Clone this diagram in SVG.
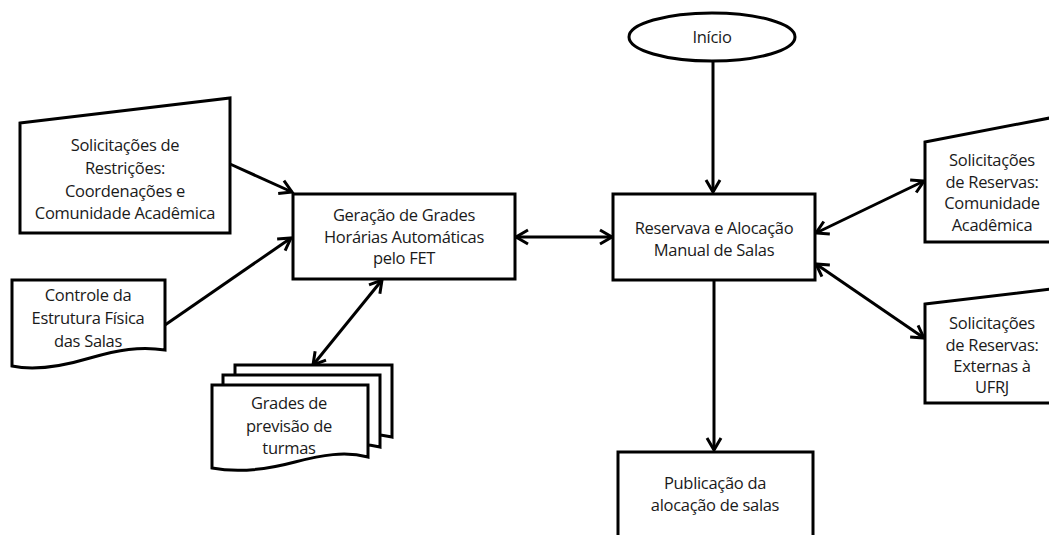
<svg xmlns="http://www.w3.org/2000/svg" width="1049" height="535" viewBox="0 0 1049 535">
<style>
.s{fill:#fff;stroke:#000;stroke-width:3;stroke-linejoin:miter}
.t{font-family:"Open Sans","Liberation Sans",Arial,sans-serif;font-size:16.5px;letter-spacing:-0.3px;fill:#1a1a1a;text-anchor:middle}
.c{stroke:#000;stroke-width:3;fill:none}
</style>
<defs>
<marker id="a" markerUnits="userSpaceOnUse" markerWidth="16" markerHeight="18" refX="13" refY="8" orient="auto-start-reverse" viewBox="0 0 16 16">
<path d="M1,1 L13,8 L1,15" fill="none" stroke="#000" stroke-width="3"/>
</marker>
</defs>
<rect width="1049" height="535" fill="#fff"/>
<g id="connectors">
<line class="c" x1="230" y1="164" x2="292" y2="192" marker-end="url(#a)"/>
<line class="c" x1="165" y1="325" x2="291" y2="238" marker-end="url(#a)"/>
<line class="c" x1="382" y1="280" x2="313" y2="365" marker-start="url(#a)" marker-end="url(#a)"/>
<line class="c" x1="516" y1="237" x2="612" y2="237" marker-start="url(#a)" marker-end="url(#a)"/>
<line class="c" x1="816" y1="233" x2="924" y2="181" marker-start="url(#a)" marker-end="url(#a)"/>
<line class="c" x1="816" y1="264" x2="924" y2="338" marker-start="url(#a)" marker-end="url(#a)"/>
<line class="c" x1="713" y1="61" x2="713" y2="192" marker-end="url(#a)"/>
<line class="c" x1="714" y1="281" x2="714" y2="450" marker-end="url(#a)"/>
</g>
<g id="inicio">
<ellipse class="s" cx="712" cy="37" rx="83" ry="24"/>
<text class="t" x="712" y="43">Início</text>
</g>
<g id="sol-restricoes">
<polygon class="s" points="20,123 230,98 230,233 20,233"/>
<text class="t" x="125" y="151">Solicitações de</text>
<text class="t" x="125" y="174">Restrições:</text>
<text class="t" x="125" y="197">Coordenações e</text>
<text class="t" x="125" y="219">Comunidade Acadêmica</text>
</g>
<g id="controle">
<path class="s" d="M12,280 H165 V350 C140,346 118,350 90,358 C60,367 35,371 12,366 Z"/>
<text class="t" x="88" y="301">Controle da</text>
<text class="t" x="88" y="324">Estrutura Física</text>
<text class="t" x="88" y="347">das Salas</text>
</g>
<g id="grades">
<path class="s" d="M235,365 H392 V437 C370,432 350,436 330,442 L235,450 Z"/>
<path class="s" d="M223,375 H380 V447 C360,442 340,446 320,452 L223,460 Z"/>
<path class="s" d="M212,385 H368 V457 C345,451 322,455 295,462 C265,470 238,473 212,468 Z"/>
<text class="t" x="289" y="409">Grades de</text>
<text class="t" x="289" y="432">previsão de</text>
<text class="t" x="289" y="454">turmas</text>
</g>
<g id="geracao">
<rect class="s" x="293" y="194" width="222" height="85"/>
<text class="t" x="404" y="221">Geração de Grades</text>
<text class="t" x="404" y="243">Horárias Automáticas</text>
<text class="t" x="404" y="264">pelo FET</text>
</g>
<g id="reserva">
<rect class="s" x="613" y="194" width="202" height="86"/>
<text class="t" x="714" y="234">Reservava e Alocação</text>
<text class="t" x="714" y="256">Manual de Salas</text>
</g>
<g id="sol-comunidade">
<polygon class="s" points="925,142 1060,116 1060,242 925,242"/>
<text class="t" x="992" y="166">Solicitações</text>
<text class="t" x="992" y="188">de Reservas:</text>
<text class="t" x="992" y="209">Comunidade</text>
<text class="t" x="992" y="231">Acadêmica</text>
</g>
<g id="sol-externas">
<polygon class="s" points="925,304 1060,288 1060,403 925,403"/>
<text class="t" x="992" y="329">Solicitações</text>
<text class="t" x="992" y="351">de Reservas:</text>
<text class="t" x="992" y="372">Externas à</text>
<text class="t" x="992" y="393">UFRJ</text>
</g>
<g id="publicacao">
<rect class="s" x="618" y="452" width="195" height="95"/>
<text class="t" x="715" y="489">Publicação da</text>
<text class="t" x="715" y="511">alocação de salas</text>
</g>
</svg>
